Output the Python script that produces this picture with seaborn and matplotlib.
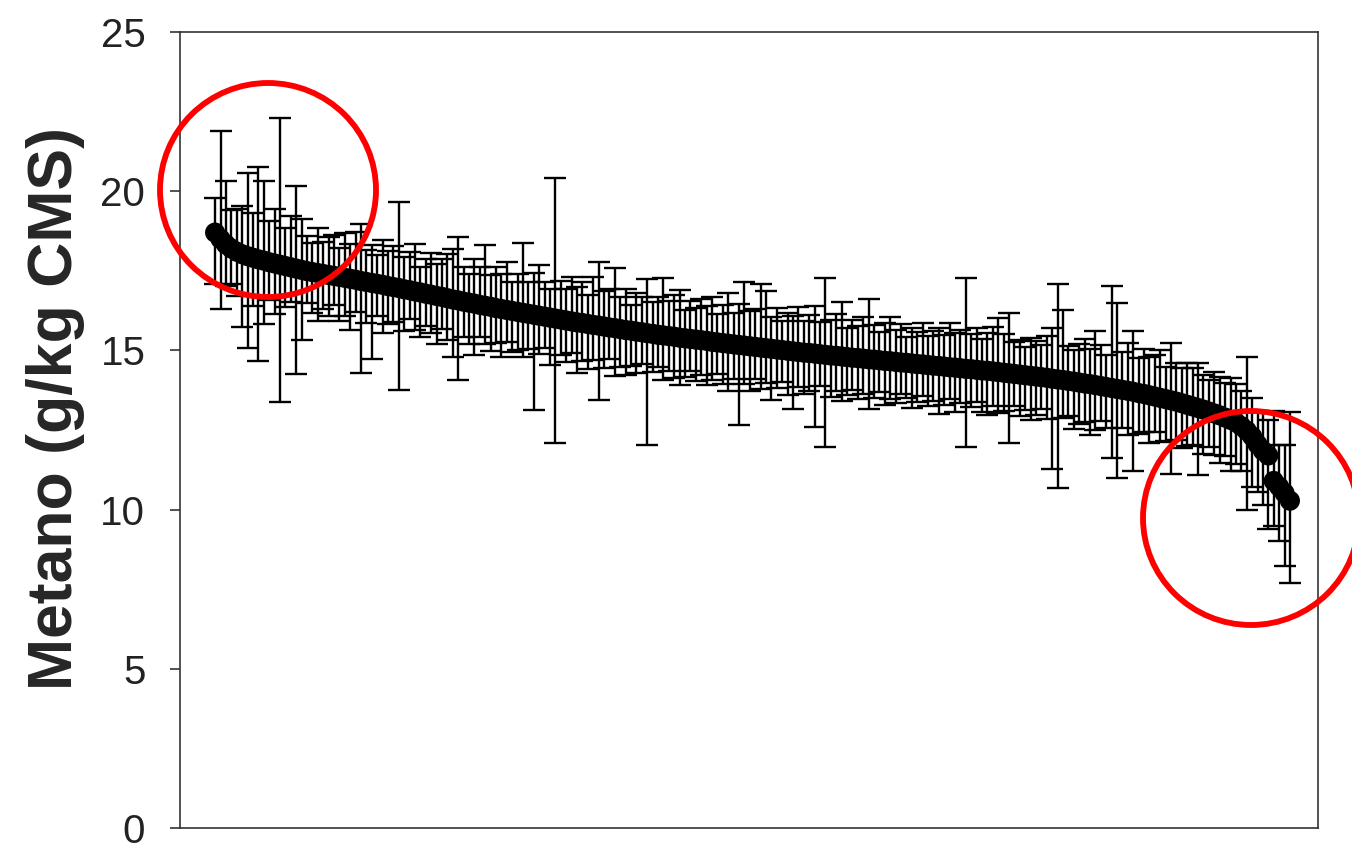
# ranked methane values per animal with error bars
import numpy as np
import pandas as pd
import matplotlib.pyplot as plt
import seaborn as sns
from matplotlib.patches import Ellipse

# mean methane per animal, sorted high -> low (g/kg CMS)
metano = [
    18.70, 18.50, 18.33, 18.20, 18.10, 18.02, 17.96, 17.91, 17.86, 17.82,
    17.77, 17.73, 17.69, 17.65, 17.61, 17.57, 17.53, 17.49, 17.46, 17.43,
    17.40, 17.37, 17.34, 17.31, 17.28, 17.25, 17.22, 17.18, 17.15, 17.12,
    17.09, 17.06, 17.02, 16.99, 16.96, 16.92, 16.89, 16.85, 16.82, 16.78,
    16.75, 16.71, 16.68, 16.64, 16.60, 16.57, 16.53, 16.50, 16.47, 16.43,
    16.40, 16.37, 16.33, 16.30, 16.27, 16.24, 16.21, 16.18, 16.15, 16.12,
    16.09, 16.06, 16.03, 16.00, 15.97, 15.94, 15.91, 15.88, 15.86, 15.83,
    15.80, 15.78, 15.75, 15.72, 15.70, 15.67, 15.64, 15.62, 15.59, 15.57,
    15.54, 15.52, 15.49, 15.47, 15.45, 15.43, 15.40, 15.38, 15.36, 15.34,
    15.32, 15.30, 15.27, 15.25, 15.23, 15.21, 15.19, 15.17, 15.15, 15.13,
    15.11, 15.09, 15.07, 15.05, 15.03, 15.01, 14.99, 14.97, 14.95, 14.93,
    14.92, 14.90, 14.88, 14.86, 14.84, 14.83, 14.81, 14.79, 14.77, 14.76,
    14.74, 14.72, 14.71, 14.69, 14.67, 14.66, 14.64, 14.62, 14.61, 14.59,
    14.57, 14.56, 14.54, 14.52, 14.51, 14.49, 14.47, 14.46, 14.44, 14.42,
    14.41, 14.39, 14.37, 14.36, 14.34, 14.32, 14.30, 14.28, 14.26, 14.24,
    14.22, 14.20, 14.18, 14.16, 14.14, 14.11, 14.09, 14.07, 14.04, 14.02,
    13.99, 13.96, 13.94, 13.91, 13.88, 13.85, 13.82, 13.79, 13.76, 13.73,
    13.70, 13.66, 13.63, 13.59, 13.55, 13.51, 13.47, 13.43, 13.39, 13.34,
    13.29, 13.24, 13.19, 13.14, 13.08, 13.02, 12.96, 12.89, 12.82, 12.74,
    12.62, 12.48, 12.30, 12.05, 11.85, 11.70, 10.90, 10.72, 10.52, 10.28,
]

# upper half of each error bar
err_up = [
    1.10, 3.40, 2.00, 1.20, 1.35, 1.50, 2.60, 1.40, 2.90, 2.50,
    1.30, 1.70, 4.60, 1.20, 1.60, 2.60, 1.60, 1.10, 0.90, 1.40,
    1.00, 1.20, 1.30, 0.90, 1.40, 1.10, 1.50, 1.80, 1.00, 1.20,
    0.90, 1.40, 1.10, 1.30, 2.70, 1.00, 1.20, 1.50, 0.80, 1.10,
    1.30, 1.00, 1.20, 1.40, 1.60, 2.00, 1.10, 0.90, 1.40, 1.20,
    1.90, 1.00, 1.30, 1.10, 1.50, 0.90, 1.20, 2.20, 1.00, 1.30,
    1.60, 1.10, 0.90, 4.40, 1.20, 1.00, 1.40, 1.10, 1.30, 0.90,
    1.50, 2.00, 1.10, 1.20, 1.90, 1.00, 1.30, 0.80, 1.20, 1.10,
    1.70, 1.00, 1.20, 1.80, 1.10, 1.30, 1.50, 0.90, 1.20, 1.00,
    1.30, 1.10, 1.40, 0.90, 1.20, 1.60, 1.00, 1.30, 2.00, 1.10,
    1.20, 2.00, 1.80, 1.00, 1.30, 0.90, 1.20, 1.10, 1.40, 1.00,
    1.20, 1.50, 1.00, 2.40, 1.10, 1.30, 1.70, 0.90, 1.20, 1.00,
    1.30, 1.90, 1.10, 0.90, 1.20, 1.40, 1.00, 1.20, 0.80, 1.10,
    1.00, 1.30, 0.90, 1.10, 1.20, 1.00, 1.40, 1.10, 1.20, 2.85,
    1.10, 1.30, 1.00, 1.20, 1.40, 1.70, 1.20, 1.90, 1.00, 1.10,
    0.90, 1.20, 1.10, 1.00, 1.30, 1.60, 3.00, 2.20, 1.10, 1.00,
    1.20, 1.40, 1.10, 1.70, 1.30, 1.00, 3.20, 2.70, 1.20, 1.50,
    1.90, 1.10, 1.40, 1.20, 1.30, 1.50, 1.00, 1.80, 1.20, 1.10,
    1.30, 1.20, 1.40, 1.10, 1.00, 1.30, 1.20, 1.10, 1.30, 1.20,
    1.10, 2.30, 1.20, 1.00, 1.20, 1.10, 2.20, 1.30, 1.50, 2.80,
]

# lower half of each error bar
err_low = [
    1.60, 2.20, 1.30, 1.10, 1.40, 2.30, 2.90, 1.50, 3.20, 2.00,
    1.20, 1.60, 4.30, 1.30, 1.10, 3.30, 2.20, 1.00, 1.30, 1.50,
    1.10, 1.30, 0.90, 1.40, 1.20, 1.60, 1.00, 2.90, 1.30, 2.40,
    1.00, 1.50, 1.20, 1.10, 3.20, 1.30, 0.90, 1.20, 1.40, 1.00,
    1.20, 1.50, 1.00, 1.30, 1.80, 2.50, 1.10, 1.30, 1.60, 1.00,
    1.20, 1.40, 1.10, 1.50, 1.00, 1.30, 1.20, 1.40, 1.10, 3.00,
    1.20, 1.00, 1.50, 3.90, 1.10, 1.30, 1.00, 1.60, 1.20, 1.40,
    1.10, 2.35, 1.30, 1.00, 1.50, 1.20, 1.40, 1.10, 1.30, 1.00,
    3.50, 1.20, 1.00, 1.40, 1.10, 1.30, 1.50, 1.20, 1.00, 1.30,
    1.10, 1.40, 1.20, 1.00, 1.30, 1.50, 1.10, 2.50, 1.20, 1.40,
    1.00, 1.30, 1.10, 1.60, 1.20, 1.00, 1.40, 1.80, 1.10, 1.30,
    1.20, 2.30, 1.00, 2.90, 1.30, 1.10, 1.40, 1.20, 1.00, 1.30,
    1.10, 1.55, 1.20, 1.00, 1.40, 1.20, 1.30, 1.00, 1.10, 1.40,
    1.20, 1.00, 1.30, 1.10, 1.50, 1.20, 1.00, 1.40, 1.10, 2.45,
    1.20, 1.00, 1.30, 1.40, 1.10, 1.30, 1.20, 2.20, 1.00, 1.30,
    1.10, 1.40, 1.20, 1.00, 1.30, 2.85, 3.40, 1.20, 1.10, 1.50,
    1.30, 1.20, 1.60, 1.40, 1.10, 1.30, 2.20, 2.80, 1.20, 1.40,
    2.50, 1.30, 1.20, 1.50, 1.10, 1.40, 1.30, 2.30, 1.20, 1.40,
    1.30, 1.20, 2.10, 1.40, 1.10, 1.30, 1.50, 1.20, 1.60, 1.30,
    1.40, 2.50, 1.60, 1.50, 1.70, 2.30, 1.40, 1.70, 2.30, 2.60,
]

y_ticks = [0, 5, 10, 15, 20, 25]

df = pd.DataFrame({
    'animal': np.arange(len(metano)),
    'metano': metano,
    'low': err_low,
    'up': err_up,
})

sns.set_style("ticks")
plt.rcParams['font.family'] = ['Liberation Sans', 'DejaVu Sans']

fig = plt.figure(figsize=(13.52, 8.46), dpi=100)
ax = fig.add_axes([180 / 1352, 18 / 846, 1138 / 1352, 796 / 846])

# error bars first, points on top
ax.errorbar(df['animal'], df['metano'], yerr=[df['low'], df['up']],
            fmt='none', ecolor='black', elinewidth=1.7, capsize=8, capthick=1.7, zorder=2)
sns.scatterplot(data=df, x='animal', y='metano', color='black', s=210,
                edgecolor='none', ax=ax, zorder=3, legend=False)

ax.set_xlim(-6.5, 204.2)
ax.set_ylim(0, 25)
ax.set_yticks(y_ticks)
ax.set_xticks([])
ax.set_xlabel('')
ax.set_ylabel('')
ax.tick_params(axis='y', direction='out', length=7, width=1.2, pad=18,
               labelsize=29, labelcolor='#222222', color='#333333')
for sp in ax.spines.values():
    sp.set_visible(True)
    sp.set_linewidth(1.2)
    sp.set_color('#333333')

fig.text(56 / 1352, 1 - 408 / 846, 'Metano (g/kg CMS)', rotation=90,
         ha='center', va='center', fontsize=45, fontweight='bold')

# red highlight circles
for cx, cy in [(268, 190), (1251, 518)]:
    fig.add_artist(Ellipse((cx / 1352, 1 - cy / 846), width=216 / 1352, height=214 / 846,
                           transform=fig.transFigure, fill=False, edgecolor='#ff0000',
                           linewidth=4.2, clip_on=False, zorder=5))

fig.savefig('out.png', dpi=100)
